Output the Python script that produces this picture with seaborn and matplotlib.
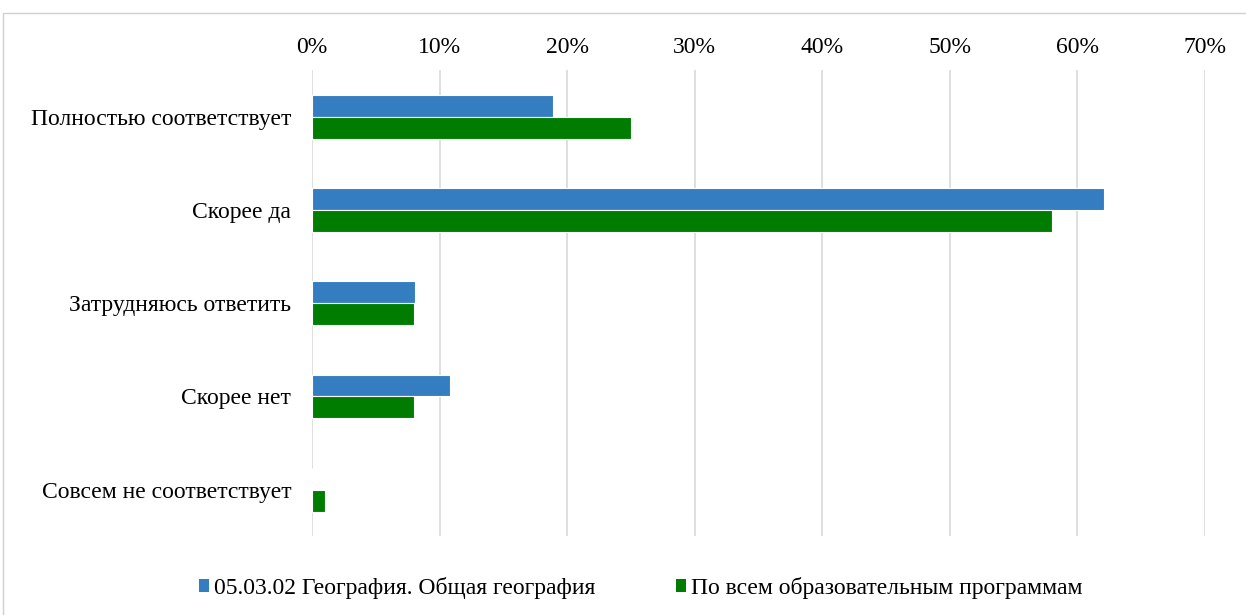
import matplotlib
matplotlib.use("Agg")
import matplotlib.pyplot as plt
import seaborn as sns
import pandas as pd
from matplotlib.patches import Patch, Rectangle
from matplotlib.ticker import PercentFormatter

categories = ["Полностью соответствует", "Скорее да", "Затрудняюсь ответить",
              "Скорее нет", "Совсем не соответствует"]
series_names = ["05.03.02 География. Общая география",
                "По всем образовательным программам"]
geo_values = [18.9, 62.1, 8.1, 10.8, 0.0]
all_values = [25.0, 58.0, 8.0, 8.0, 1.0]
colors = ["#337DC0", "#007D00"]

df = pd.DataFrame({
    "category": categories * 2,
    "series": [series_names[0]] * 5 + [series_names[1]] * 5,
    "value": geo_values + all_values,
})

sns.set_style("white")
plt.rcParams["font.family"] = ["Liberation Serif", "DejaVu Serif"]
plt.rcParams["text.color"] = "black"

fig = plt.figure(figsize=(12.46, 6.15), dpi=100)
ax = fig.add_axes([0.2504, 0.128, 0.7166, 0.758])

sns.barplot(data=df, y="category", x="value", hue="series", order=categories,
            hue_order=series_names, palette=colors, saturation=1, width=0.47,
            orient="h", edgecolor="white", linewidth=0.8, legend=False, ax=ax)

ax.set_xlim(0, 70)
ax.set_xticks(range(0, 71, 10))
ax.xaxis.set_major_formatter(PercentFormatter(decimals=0))
ax.xaxis.tick_top()
ax.tick_params(axis="both", length=0, labelsize=17, colors="black")
ax.tick_params(axis="y", pad=15)
ax.tick_params(axis="x", pad=9)
ax.grid(axis="x", color="#d9d9d9", linewidth=1.2)
ax.set_axisbelow(True)
for s in ax.spines.values():
    s.set_visible(False)
ax.set_xlabel("")
ax.set_ylabel("")

handles = [Patch(facecolor=c, edgecolor="none") for c in colors]
fig.legend(handles, series_names, loc="center", bbox_to_anchor=(0.514, 0.044),
           ncol=2, frameon=False, fontsize=17, labelcolor="black",
           handlelength=0.45, handleheight=0.45, handletextpad=0.2,
           columnspacing=3.4)

fig.patches.append(Rectangle((3 / 1246, -0.01), 1.0, (615 - 13) / 615 + 0.01,
                             transform=fig.transFigure, fill=False,
                             edgecolor="#d0d0d0", linewidth=1))

fig.savefig("out.png", dpi=100)
plt.close(fig)
